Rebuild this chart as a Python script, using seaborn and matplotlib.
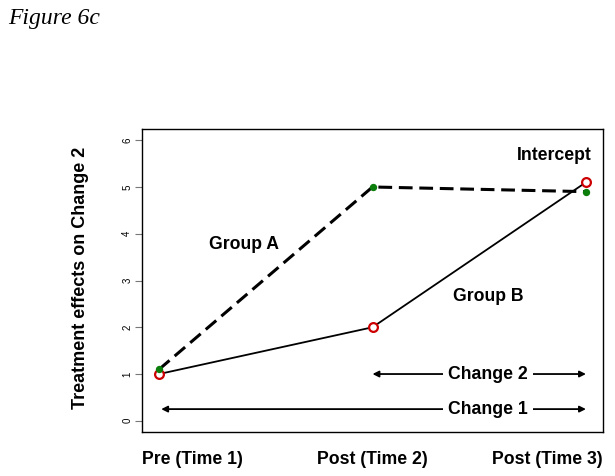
import matplotlib
matplotlib.use("Agg")
import matplotlib.pyplot as plt
import seaborn as sns
import pandas as pd

# Data
times = [1, 2, 3]
time_labels = ["Pre (Time 1)", "Post (Time 2)", "Post (Time 3)"]
group_a = [1.1, 5.0, 4.9]
group_b = [1.0, 2.0, 5.1]
y_ticks = [0, 1, 2, 3, 4, 5, 6]

sns.set_theme(style="white")
plt.rcParams['font.family'] = ['Liberation Sans', 'DejaVu Sans']
plt.rcParams['text.color'] = 'black'
plt.rcParams['axes.labelcolor'] = 'black'
plt.rcParams['xtick.color'] = 'black'
plt.rcParams['ytick.color'] = 'black'

df_a = pd.DataFrame({"time": times, "value": group_a})
df_b = pd.DataFrame({"time": times, "value": group_b})

fig = plt.figure(figsize=(6.15, 4.76), dpi=100)
ax = fig.add_axes([0.2309, 0.0924, 0.7496, 0.6366])

sns.lineplot(data=df_a, x="time", y="value", ax=ax, color="black",
             linewidth=2.2, linestyle=(0, (4.5, 2.2)), zorder=2)
sns.lineplot(data=df_b, x="time", y="value", ax=ax, color="black",
             linewidth=1.3, zorder=2)
sns.scatterplot(data=df_b, x="time", y="value", ax=ax, facecolor="white",
                edgecolor="#cc0000", s=40, linewidth=1.6, zorder=4)
sns.scatterplot(data=df_a, x="time", y="value", ax=ax, color="#0a7d0a",
                s=28, edgecolor="#0a7d0a", linewidth=0, zorder=5)

FS = 12.7

# Arrows
def dbl_arrow(x0, x1, y, label, xl):
    ax.annotate("", xy=(x0, y), xytext=(x1, y),
                arrowprops=dict(arrowstyle="<|-|>", color="black", lw=1.3,
                                mutation_scale=9, shrinkA=0, shrinkB=0))
    ax.text(xl, y, label, ha="center", va="center",
            fontsize=FS, fontweight="bold",
            bbox=dict(facecolor="white", edgecolor="none", pad=3.5))

dbl_arrow(2.0, 3.0, 1.0, "Change 2", 2.54)
dbl_arrow(1.01, 3.0, 0.25, "Change 1", 2.54)

ax.text(1.40, 3.78, "Group A", ha="center", va="center", fontsize=FS, fontweight="bold")
ax.text(2.54, 2.65, "Group B", ha="center", va="center", fontsize=FS, fontweight="bold")
ax.text(2.85, 5.68, "Intercept", ha="center", va="center", fontsize=FS, fontweight="bold")

ax.set_xlim(0.92, 3.08)
ax.set_ylim(-0.24, 6.24)
ax.set_xticks(times)
ax.set_xticklabels([])
# Category labels, aligned to fit inside the plot width
for i, lab in enumerate(time_labels):
    ha = ["left", "center", "right"][i]
    ax.text(i / (len(time_labels) - 1), -0.09, lab, transform=ax.transAxes,
            ha=ha, va="center", fontsize=FS, fontweight="bold")
ax.set_yticks(y_ticks)
ax.set_yticklabels([str(v) for v in y_ticks], fontsize=7, rotation=90, va="center")
ax.tick_params(axis="x", length=0)
ax.tick_params(axis="y", length=5, width=0.8, color="#777777", pad=2, left=True)
ax.set_xlabel("")
ax.set_ylabel("")
fig.text(81 / 615, 1 - 278 / 476, "Treatment effects on Change 2", rotation=90,
         ha="center", va="center", fontsize=13, fontweight="bold")
for s in ax.spines.values():
    s.set_color("black")
    s.set_linewidth(1.0)

fig.text(0.014, 0.962, "Figure 6c", fontsize=17, style="italic",
         family=["Liberation Serif", "DejaVu Serif"], ha="left", va="center")

fig.savefig("out.png", dpi=100)
